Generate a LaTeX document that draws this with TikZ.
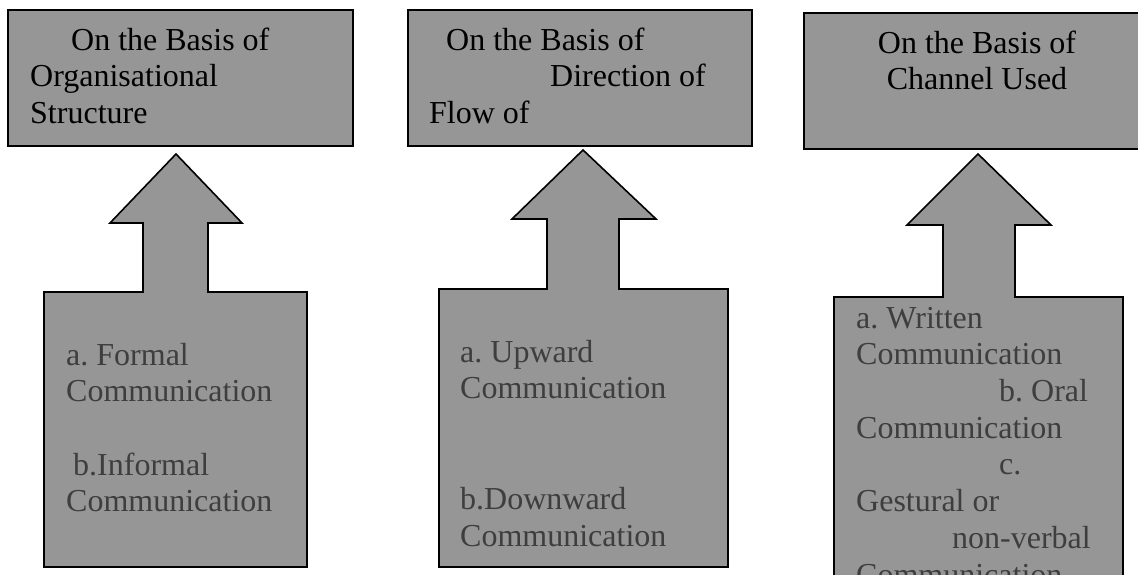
\documentclass[tikz,border=0pt]{standalone}
\usepackage{fontspec}
\setmainfont{Liberation Serif}
\usetikzlibrary{positioning}
\definecolor{boxgray}{RGB}{150,150,150}
\definecolor{itemgray}{RGB}{62,62,62}
\frenchspacing

\begin{document}
\begin{tikzpicture}[
  x=1pt, y=-1pt,
  basis/.style={draw, line width=2.5pt, fill=boxgray, minimum width=345pt, minimum height=136pt, anchor=north west, inner sep=0pt, outer sep=0pt},
  caption/.style={anchor=north west, inner sep=0pt, align=left, font=\fontsize{32}{36.7}\selectfont},
  items/.style={caption, text=itemgray},
  callout/.style={draw, line width=1.6pt, fill=boxgray, line join=miter},
]
  \useasboundingbox (0,0) rectangle (1138,575);
  \clip (0,0) rectangle (1138,575);

  % Top boxes
  \node[basis] (org) at (8,10) {};
  \node[basis, minimum width=344pt] (dir) at (408,10) {};
  \node[basis, minimum width=360pt] (chan) at (804,13) {};

  \node[caption, below right=14.3pt and 22pt of org.north west] (orgtext)
    {\strut\hspace*{41pt}On the Basis of\\Organisational\\Structure};
  \node[caption, below right=14.3pt and 21pt of dir.north west] (dirtext)
    {\strut\hspace*{17pt}On the Basis of\\\hspace*{121pt}Direction of\\Flow of};
  \node[caption, anchor=north, align=center] (chantext) at (977,27.3)
    {\strut On the Basis of\\Channel Used};

  % Up arrow callouts
  \draw[callout] (44,567) -- (44,292) -- (143,292) -- (143,223) -- (110,223) -- (176,154)
    -- (242,223) -- (208,223) -- (208,292) -- (307,292) -- (307,567) -- cycle;
  \draw[callout] (439,567) -- (439,289) -- (547,289) -- (547,219) -- (512,219) -- (583,150)
    -- (656,219) -- (619,219) -- (619,289) -- (728,289) -- (728,567) -- cycle;
  \draw[callout] (834,620) -- (834,297) -- (943,297) -- (943,225) -- (907,225) -- (978,154)
    -- (1051,225) -- (1015,225) -- (1015,297) -- (1123,297) -- (1123,620) -- cycle;

  % Types of communication
  \node[items] (formal) at (66,339.3)
    {\strut a. Formal\\Communication\\[36.7pt]\hspace*{7pt}b.Informal\\Communication};
  \node[items] (upward) at (460,336.3)
    {\strut a. Upward\\Communication\\[74pt]b.Downward\\Communication};
  \node[items] (written) at (856,302.3)
    {\strut a. Written\\Communication\\\hspace*{143pt}b. Oral\\Communication\\\hspace*{143pt}c.\\Gestural or\\\hspace*{96pt}non-verbal\\Communication};
\end{tikzpicture}
\end{document}
